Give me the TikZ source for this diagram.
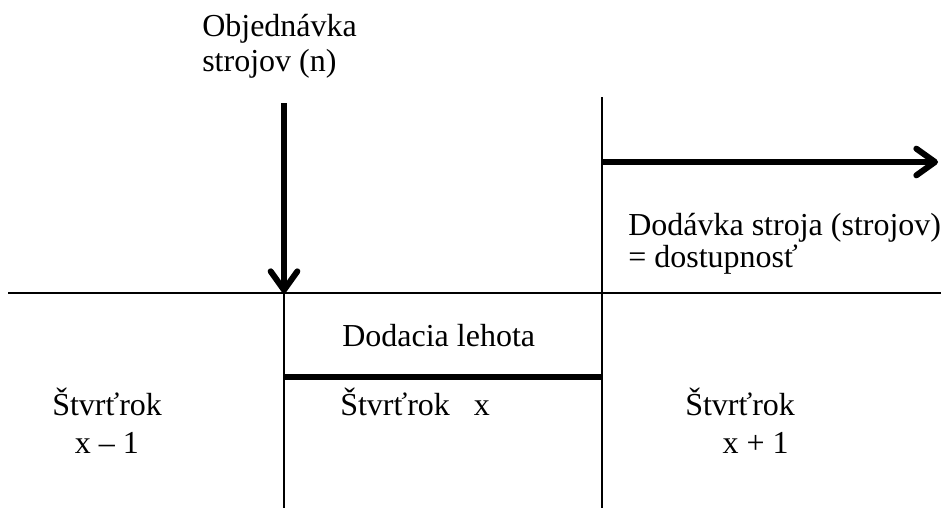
\documentclass[tikz,border=0pt]{standalone}
\usepackage{fontspec}
\setmainfont{Liberation Serif}
\usetikzlibrary{arrows.meta}

\tikzset{
  thinline/.style={line width=1.5pt},
  thickline/.style={line width=4.5pt},
  tiparrow/.style={thickline,-{Straight Barb[length=14pt,width=20pt,round]}},
  label/.style={anchor=base west,inner sep=0pt,font=\fontsize{24}{27}\selectfont,align=left}
}

\begin{document}
\begin{tikzpicture}[x=0.75pt,y=-0.75pt]
\useasboundingbox (0,0) rectangle (941,511);

% time axis and quarter limits
\coordinate (axis west) at (8,293);
\coordinate (axis east) at (941,293);
\coordinate (order top) at (284,103);
\coordinate (order) at (284,293);
\coordinate (order bottom) at (284,508);
\coordinate (delivery top) at (602,97);
\coordinate (delivery) at (602,162);
\coordinate (delivery bottom) at (602,508);
\coordinate (available) at (938,162);
\coordinate (lead west) at (284,377);
\coordinate (lead east) at (602,377);

\draw[thinline] (axis west)--(axis east);
\draw[thinline] (order)--(order bottom);
\draw[thinline] (delivery top)--(delivery bottom);

\draw[tiparrow] (order top)--(order);
\draw[tiparrow] (delivery)--(available);
\draw[thickline] (lead west)--(lead east);

% texts (base = last line)
\node[label] (objednavka) at (202,71) {Objednávka\\[-0.75pt]strojov (n)};
\node[label] (dodavka) at (628,267) {Dodávka stroja (strojov)\\[-3pt]= dostupnosť};
\node[label] (lehota) at (342,346) {Dodacia lehota};
\node[label] (q prev) at (52,453) {Štvrťrok\\[1.5pt]\hspace*{17pt}x – 1};
\node[label] (q now) at (340,415) {Štvrťrok\hspace{18pt}x};
\node[label] (q next) at (685,453) {Štvrťrok\\[1.5pt]\hspace*{28pt}x + 1};

\end{tikzpicture}
\end{document}
